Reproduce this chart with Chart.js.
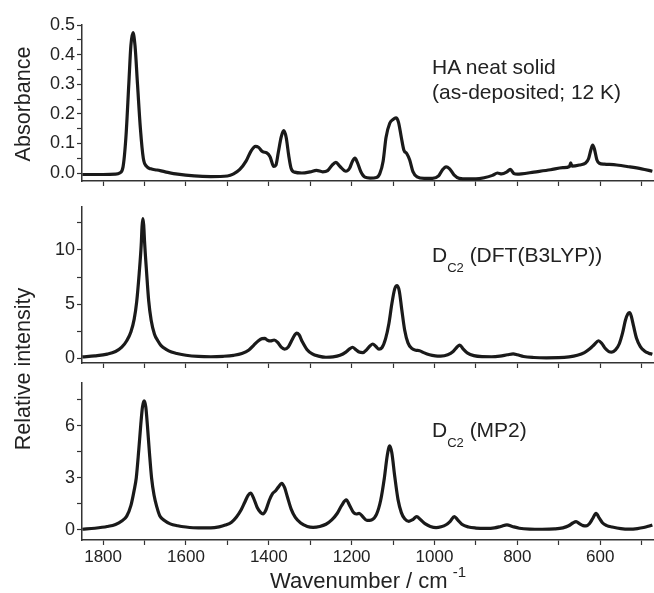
<!DOCTYPE html>
<html>
<head>
<meta charset="utf-8">
<title>HA IR spectra</title>
<script src="https://cdn.jsdelivr.net/npm/chart.js@4.4.1/dist/chart.umd.min.js"></script>
<style>
  body { margin: 0; background: #fff; }
  #wrap { position: relative; width: 654px; height: 593px; overflow: hidden;
          font-family: "Liberation Sans", Arial, sans-serif; color: #222; }
  #wrap canvas { position: absolute; left: 0; top: 0; }
  .lbl { position: absolute; white-space: nowrap; font-size: 21px; line-height: 25px; }
  .sub { position: relative; top: 10px; font-size: 13px; }
  .rot { position: absolute; white-space: nowrap; font-size: 21.5px; line-height: 22px;
         transform: translate(-50%, -50%) rotate(-90deg); }
  .xt { position: absolute; white-space: nowrap; font-size: 22px; line-height: 22px; transform: translateX(-50%); }
  .sup { position: relative; top: -11px; font-size: 15px; margin-left: 5px; }
</style>
</head>
<body>
<div id="wrap">
  <canvas id="c1" width="654" height="593"></canvas>
  <canvas id="c2" width="654" height="593"></canvas>
  <canvas id="c3" width="654" height="593"></canvas>

  <div class="rot" style="left:23px; top:104px">Absorbance</div>
  <div class="rot" style="left:23px; top:369px">Relative intensity</div>
  <div class="xt" style="left:368px; top:570px">Wavenumber / cm<span class="sup">-1</span></div>

  <div class="lbl" style="left:432px; top:54px">HA neat solid<br>(as-deposited; 12 K)</div>
  <div class="lbl" style="left:432px; top:242px">D<span class="sub">C2</span> (DFT(B3LYP))</div>
  <div class="lbl" style="left:432px; top:417px">D<span class="sub">C2</span> (MP2)</div>
</div>

<script>
// x axis (wavenumber, cm-1)
const xTicks = [1800, 1700, 1600, 1500, 1400, 1300, 1200, 1100, 1000, 900, 800, 700, 600, 500]
const xLabels = [1800, 1600, 1400, 1200, 1000, 800, 600]

// HA neat solid, measured absorbance
const haX = [1850, 1800, 1770, 1760, 1752, 1745, 1738, 1733, 1728, 1723, 1717, 1710, 1703, 1695, 1685, 1670, 1650, 1620, 1580, 1540,
  1500, 1485, 1470, 1455, 1443, 1432, 1425, 1415, 1405, 1397, 1388, 1383, 1377, 1370, 1364, 1358, 1352, 1346, 1338, 1320,
  1300, 1285, 1270, 1258, 1248, 1238, 1228, 1214, 1205, 1198, 1192, 1186, 1178, 1168, 1155, 1140, 1132, 1124, 1117, 1108,
  1100, 1093, 1087, 1080, 1074, 1067, 1060, 1052, 1042, 1025, 1005, 990, 981, 972, 964, 953, 940, 920, 900, 880,
  860, 848, 838, 825, 817, 808, 800, 790, 760, 720, 690, 674, 671, 668, 650, 635, 628, 622, 618, 614,
  608, 602, 590, 560, 530, 500, 474]
const haY = [-0.005, -0.005, -0.004, 0.0, 0.02, 0.12, 0.30, 0.43, 0.474, 0.43, 0.30, 0.15, 0.05, 0.022, 0.014, 0.01, 0.004, -0.004, -0.01, -0.012,
  -0.01, -0.003, 0.012, 0.04, 0.074, 0.09, 0.087, 0.072, 0.068, 0.055, 0.022, 0.026, 0.07, 0.122, 0.143, 0.12, 0.06, 0.015, 0.003, 0.0,
  0.004, 0.009, 0.004, 0.008, 0.025, 0.036, 0.022, 0.006, 0.016, 0.04, 0.05, 0.035, 0.005, -0.014, -0.017, -0.015, -0.002, 0.04, 0.12, 0.168,
  0.181, 0.186, 0.172, 0.12, 0.078, 0.066, 0.045, 0.005, -0.013, -0.018, -0.018, -0.01, 0.01, 0.021, 0.015, -0.006, -0.018, -0.02, -0.02, -0.016,
  -0.008, 0.0, -0.003, 0.004, 0.012, -0.002, -0.004, -0.003, 0.003, 0.011, 0.018, 0.022, 0.034, 0.023, 0.027, 0.034, 0.048, 0.08, 0.094, 0.082,
  0.045, 0.033, 0.03, 0.027, 0.021, 0.014, 0.006]
const haTicks = [0, 0.05, 0.1, 0.15, 0.2, 0.25, 0.3, 0.35, 0.4, 0.45, 0.5]
const haLabels = [0, 0.1, 0.2, 0.3, 0.4, 0.5]

// DC2, DFT(B3LYP) relative intensity
const dftX = [1850, 1820, 1790, 1770, 1755, 1743, 1733, 1725, 1719, 1713, 1708, 1706, 1704, 1702, 1700, 1695, 1690, 1684, 1676, 1668,
  1660, 1648, 1635, 1622, 1600, 1570, 1540, 1510, 1485, 1465, 1448, 1436, 1425, 1416, 1410, 1403, 1396, 1387, 1378, 1370,
  1362, 1353, 1345, 1338, 1333, 1327, 1319, 1308, 1295, 1280, 1262, 1245, 1228, 1214, 1205, 1198, 1190, 1182, 1173, 1163,
  1155, 1149, 1142, 1134, 1127, 1118, 1110, 1103, 1096, 1090, 1085, 1079, 1072, 1064, 1055, 1045, 1036, 1026, 1012, 998,
  985, 968, 955, 946, 939, 931, 920, 905, 885, 862, 842, 824, 810, 800, 785, 760, 730, 700, 675, 655,
  638, 625, 614, 604, 596, 588, 579, 572, 563, 554, 546, 539, 533, 529, 525, 519, 512, 503, 493, 483, 474]
const dftY = [0.1, 0.2, 0.36, 0.6, 1.0, 1.6, 2.4, 3.6, 5.2, 7.8, 10.5, 12.2, 12.9, 12.3, 10.8, 7.9, 5.3, 3.5, 2.2, 1.6,
  1.15, 0.8, 0.55, 0.42, 0.26, 0.15, 0.12, 0.16, 0.25, 0.42, 0.75, 1.2, 1.6, 1.8, 1.82, 1.65, 1.58, 1.67, 1.42, 1.0,
  0.82, 1.02, 1.6, 2.1, 2.3, 2.15, 1.5, 0.8, 0.38, 0.18, 0.07, 0.1, 0.25, 0.55, 0.85, 1.0, 0.78, 0.55, 0.5, 0.8,
  1.15, 1.3, 1.1, 0.82, 0.95, 1.8, 3.2, 5.0, 6.4, 6.7, 6.2, 4.5, 2.6, 1.4, 0.9, 0.72, 0.68, 0.5, 0.3, 0.2,
  0.18, 0.3, 0.6, 1.0, 1.2, 0.85, 0.45, 0.22, 0.13, 0.12, 0.18, 0.3, 0.38, 0.3, 0.14, 0.05, 0.02, 0.03, 0.1, 0.25,
  0.5, 0.85, 1.25, 1.6, 1.35, 0.9, 0.6, 0.55, 0.75, 1.3, 2.3, 3.5, 4.1, 4.2, 3.9, 2.9, 1.8, 1.05, 0.65, 0.45, 0.35]
const dftTicks = [0, 2.5, 5, 7.5, 10, 12.5]
const dftLabels = [0, 5, 10]

// DC2, MP2 relative intensity
const mp2X = [1850, 1820, 1790, 1770, 1755, 1743, 1733, 1725, 1720, 1714, 1709, 1705, 1701, 1697, 1693, 1688, 1683, 1677, 1670, 1663,
  1652, 1638, 1620, 1600, 1570, 1540, 1520, 1505, 1490, 1478, 1467, 1458, 1450, 1444, 1437, 1428, 1420, 1414, 1407, 1399,
  1391, 1384, 1376, 1369, 1362, 1355, 1346, 1336, 1323, 1307, 1293, 1277, 1262, 1248, 1235, 1224, 1213, 1205, 1196, 1189,
  1182, 1173, 1163, 1152, 1140, 1130, 1121, 1114, 1108, 1103, 1096, 1088, 1080, 1072, 1062, 1052, 1043, 1034, 1022, 1010,
  996, 984, 972, 962, 952, 944, 934, 918, 900, 875, 855, 840, 825, 812, 795, 770, 740, 710, 690, 676,
  666, 658, 650, 641, 634, 626, 618, 610, 602, 594, 584, 571, 550, 530, 510, 495, 484, 474]
const mp2Y = [0.04, 0.1, 0.2, 0.32, 0.52, 0.8, 1.4, 2.3, 3.0, 4.6, 6.1, 7.1, 7.45, 7.1, 6.0, 4.4, 3.0, 2.0, 1.3, 0.8,
  0.55, 0.35, 0.24, 0.17, 0.12, 0.12, 0.18, 0.28, 0.45, 0.75, 1.15, 1.6, 2.0, 2.12, 1.85, 1.3, 1.02, 0.93, 1.15, 1.7,
  2.1, 2.25, 2.5, 2.69, 2.45, 1.9, 1.2, 0.72, 0.4, 0.2, 0.15, 0.2, 0.33, 0.58, 0.95, 1.42, 1.73, 1.42, 1.02, 0.92,
  0.96, 0.76, 0.55, 0.58, 0.9, 1.7, 3.0, 4.3, 4.85, 4.45, 3.1, 1.75, 1.0, 0.64, 0.5, 0.6, 0.77, 0.6, 0.35, 0.2,
  0.13, 0.18, 0.3, 0.5, 0.77, 0.58, 0.33, 0.17, 0.11, 0.09, 0.12, 0.2, 0.29, 0.2, 0.1, 0.05, 0.04, 0.06, 0.12, 0.24,
  0.4, 0.48, 0.36, 0.25, 0.23, 0.36, 0.66, 0.96, 0.68, 0.4, 0.25, 0.17, 0.08, 0.05, 0.08, 0.14, 0.21, 0.29]
const mp2Ticks = [0, 1.5, 3, 4.5, 6, 7.5]
const mp2Labels = [0, 3, 6]

const FONT = "'Liberation Sans', Arial, sans-serif"
const INK = "#1a1a1a"
const AXIS = "#333"

function makePanel(id, xs, ys, yMin, yMax, yTicks, yLabels, digits, padTop, padBottom, xHeight, showX) {
  return new Chart(document.getElementById(id), {
    type: "line",
    data: {
      datasets: [
        {
          data: xs.map((x, i) => ({ x: x, y: ys[i] })),
          borderColor: INK,
          borderWidth: 3.2,
          pointRadius: 0,
          fill: false,
          cubicInterpolationMode: "monotone",
        },
      ],
    },
    options: {
      responsive: false,
      animation: false,
      events: [],
      layout: { padding: { top: padTop, bottom: padBottom, left: 0, right: 0 } },
      plugins: { legend: { display: false }, tooltip: { enabled: false } },
      scales: {
        x: {
          type: "linear",
          reverse: true,
          min: 470,
          max: 1851,
          afterBuildTicks: (s) => { s.ticks = xTicks.map((v) => ({ value: v })) },
          afterFit: (s) => { s.height = xHeight },
          ticks: {
            display: showX,
            autoSkip: false,
            maxRotation: 0,
            padding: 2,
            color: "#222",
            font: { family: FONT, size: 17 },
            callback: (v) => (xLabels.includes(v) ? String(v) : ""),
          },
          grid: { drawOnChartArea: false, tickLength: 5, color: AXIS, tickWidth: 1.2 },
          border: { color: AXIS, width: 1.5 },
        },
        y: {
          min: yMin,
          max: yMax,
          afterBuildTicks: (s) => { s.ticks = yTicks.map((v) => ({ value: v })) },
          afterFit: (s) => { s.width = 82 },
          ticks: {
            autoSkip: false,
            padding: 2,
            color: "#222",
            font: { family: FONT, size: 18 },
            callback: (v) => (yLabels.includes(v) ? v.toFixed(digits) : ""),
          },
          grid: { drawOnChartArea: false, tickLength: 5, color: AXIS, tickWidth: 1.2 },
          border: { color: AXIS, width: 1.5 },
        },
      },
    },
  })
}

makePanel("c1", haX, haY, -0.027, 0.5, haTicks, haLabels, 1, 25, 402, 10, false)
makePanel("c2", dftX, dftY, -0.46, 13.98, dftTicks, dftLabels, 0, 207, 220, 10, false)
makePanel("c3", mp2X, mp2Y, -0.58, 8.48, mp2Ticks, mp2Labels, 0, 383, 0, 53, true)
</script>
</body>
</html>
